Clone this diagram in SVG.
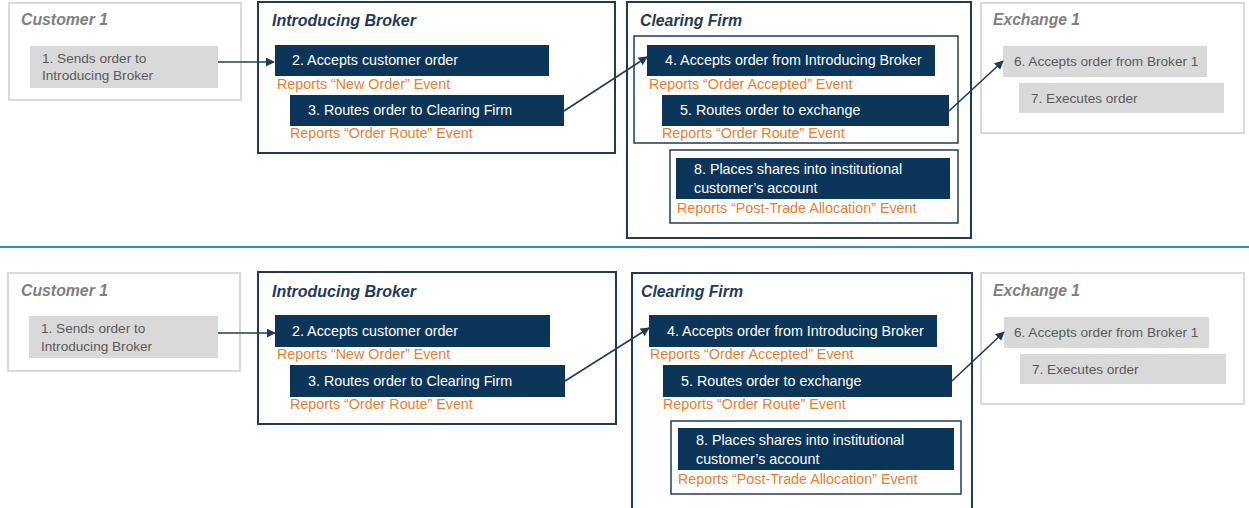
<svg xmlns="http://www.w3.org/2000/svg" width="1249" height="508" viewBox="0 0 1249 508">
<style>
.bg{fill:#fff}
.gframe{fill:#fff;stroke:#d9d9d9;stroke-width:2}
.nframe{fill:none;stroke:#1f3b5c;stroke-width:2}
.iframe{fill:none;stroke:#1f3b5c;stroke-width:1.5}
.gbox{fill:#d9d9d9}
.nbox{fill:#0c355a}
.gt{font-family:"Liberation Sans",Arial,sans-serif;font-size:13.6px;fill:#595959}
.wt{font-family:"Liberation Sans",Arial,sans-serif;font-size:14.3px;fill:#ffffff}
.ot{font-family:"Liberation Sans",Arial,sans-serif;font-size:14.3px;fill:#ed7d31}
.gtitle{font-family:"Liberation Sans",Arial,sans-serif;font-size:16px;font-weight:bold;font-style:italic;fill:#7f7f7f}
.ntitle{font-family:"Liberation Sans",Arial,sans-serif;font-size:16px;font-weight:bold;font-style:italic;fill:#1f3b5c}
.conn{fill:none;stroke:#1f3b5c;stroke-width:1.6;marker-end:url(#ah)}
.sep{stroke:#2e8bd0;stroke-width:2}
</style>
<defs>
<marker id="ah" viewBox="0 0 10 10" refX="9" refY="5" markerWidth="9" markerHeight="9" orient="auto" markerUnits="userSpaceOnUse">
<path d="M0,0 L10,5 L0,10 z" fill="#1f3b5c"/>
</marker>
</defs>
<rect class="bg" x="0" y="0" width="1249" height="508"/>

<!-- TOP -->
<g id="customer1-top">
<rect class="gframe" x="9" y="3" width="232" height="97"/>
<text class="gtitle" x="21" y="25" textLength="87" lengthAdjust="spacingAndGlyphs">Customer 1</text>
<rect class="gbox" x="30" y="46" width="188" height="42"/>
<text class="gt" x="42" y="63">1. Sends order to</text>
<text class="gt" x="42" y="80">Introducing Broker</text>
</g>
<g id="broker-top">
<rect class="nframe" x="258" y="2" width="357" height="151"/>
<text class="ntitle" x="272" y="26" textLength="144" lengthAdjust="spacingAndGlyphs">Introducing Broker</text>
<rect class="nbox" x="275" y="45" width="274" height="31"/>
<text class="wt" x="292" y="65">2. Accepts customer order</text>
<text class="ot" x="277" y="89">Reports “New Order” Event</text>
<rect class="nbox" x="290" y="95" width="274" height="31"/>
<text class="wt" x="308" y="115">3. Routes order to Clearing Firm</text>
<text class="ot" x="290" y="138">Reports “Order Route” Event</text>
</g>
<g id="clearing-top">
<rect class="nframe" x="627" y="2" width="344" height="236"/>
<text class="ntitle" x="640" y="26" textLength="102" lengthAdjust="spacingAndGlyphs">Clearing Firm</text>
<rect class="iframe" x="634" y="36" width="324" height="107"/>
<rect class="nbox" x="647" y="45" width="288" height="31"/>
<text class="wt" x="665" y="65">4. Accepts order from Introducing Broker</text>
<text class="ot" x="649" y="89">Reports “Order Accepted” Event</text>
<rect class="nbox" x="662" y="95" width="287" height="31"/>
<text class="wt" x="680" y="115">5. Routes order to exchange</text>
<text class="ot" x="662" y="138">Reports “Order Route” Event</text>
<rect class="iframe" x="670" y="150" width="288" height="73"/>
<rect class="nbox" x="676" y="158" width="274" height="41"/>
<text class="wt" x="694" y="174">8. Places shares into institutional</text>
<text class="wt" x="694" y="193">customer’s account</text>
<text class="ot" x="677" y="213">Reports “Post-Trade Allocation” Event</text>
</g>
<g id="exchange1-top">
<rect class="gframe" x="981" y="3" width="263" height="130"/>
<text class="gtitle" x="993" y="25" textLength="87" lengthAdjust="spacingAndGlyphs">Exchange 1</text>
<rect class="gbox" x="1003" y="46" width="204" height="31"/>
<text class="gt" x="1014" y="66">6. Accepts order from Broker 1</text>
<rect class="gbox" x="1019" y="83" width="205" height="30"/>
<text class="gt" x="1031" y="103">7. Executes order</text>
</g>

<line class="sep" x1="0" y1="247" x2="1249" y2="247"/>

<!-- BOTTOM -->
<g id="customer1-bottom">
<rect class="gframe" x="8" y="273" width="232" height="98"/>
<text class="gtitle" x="21" y="296" textLength="87" lengthAdjust="spacingAndGlyphs">Customer 1</text>
<rect class="gbox" x="29" y="316" width="189" height="42"/>
<text class="gt" x="41" y="333">1. Sends order to</text>
<text class="gt" x="41" y="351">Introducing Broker</text>
</g>
<g id="broker-bottom">
<rect class="nframe" x="258" y="272" width="358" height="152"/>
<text class="ntitle" x="272" y="297" textLength="144" lengthAdjust="spacingAndGlyphs">Introducing Broker</text>
<rect class="nbox" x="275" y="315" width="275" height="32"/>
<text class="wt" x="292" y="336">2. Accepts customer order</text>
<text class="ot" x="277" y="359">Reports “New Order” Event</text>
<rect class="nbox" x="290" y="365" width="275" height="32"/>
<text class="wt" x="308" y="386">3. Routes order to Clearing Firm</text>
<text class="ot" x="290" y="409">Reports “Order Route” Event</text>
</g>
<g id="clearing-bottom">
<rect class="nframe" x="632" y="273" width="340" height="240"/>
<text class="ntitle" x="641" y="297" textLength="102" lengthAdjust="spacingAndGlyphs">Clearing Firm</text>
<rect class="nbox" x="649" y="315" width="288" height="32"/>
<text class="wt" x="667" y="336">4. Accepts order from Introducing Broker</text>
<text class="ot" x="650" y="359">Reports “Order Accepted” Event</text>
<rect class="nbox" x="663" y="365" width="289" height="32"/>
<text class="wt" x="681" y="386">5. Routes order to exchange</text>
<text class="ot" x="663" y="409">Reports “Order Route” Event</text>
<rect class="iframe" x="671" y="421" width="290" height="73"/>
<rect class="nbox" x="678" y="428" width="276" height="42"/>
<text class="wt" x="696" y="445">8. Places shares into institutional</text>
<text class="wt" x="696" y="464">customer’s account</text>
<text class="ot" x="678" y="484">Reports “Post-Trade Allocation” Event</text>
</g>
<g id="exchange1-bottom">
<rect class="gframe" x="981" y="273" width="263" height="131"/>
<text class="gtitle" x="993" y="296" textLength="87" lengthAdjust="spacingAndGlyphs">Exchange 1</text>
<rect class="gbox" x="1004" y="317" width="205" height="31"/>
<text class="gt" x="1014" y="337">6. Accepts order from Broker 1</text>
<rect class="gbox" x="1020" y="354" width="206" height="30"/>
<text class="gt" x="1032" y="374">7. Executes order</text>
</g>

<g id="connectors">
<line class="conn" x1="218" y1="62" x2="274" y2="62"/>
<line class="conn" x1="564" y1="111" x2="647" y2="57"/>
<line class="conn" x1="949" y1="111" x2="1003" y2="61"/>
<line class="conn" x1="218" y1="333" x2="275" y2="333"/>
<line class="conn" x1="565" y1="381" x2="649" y2="328"/>
<line class="conn" x1="952" y1="381" x2="1004" y2="332"/>
</g>
</svg>
